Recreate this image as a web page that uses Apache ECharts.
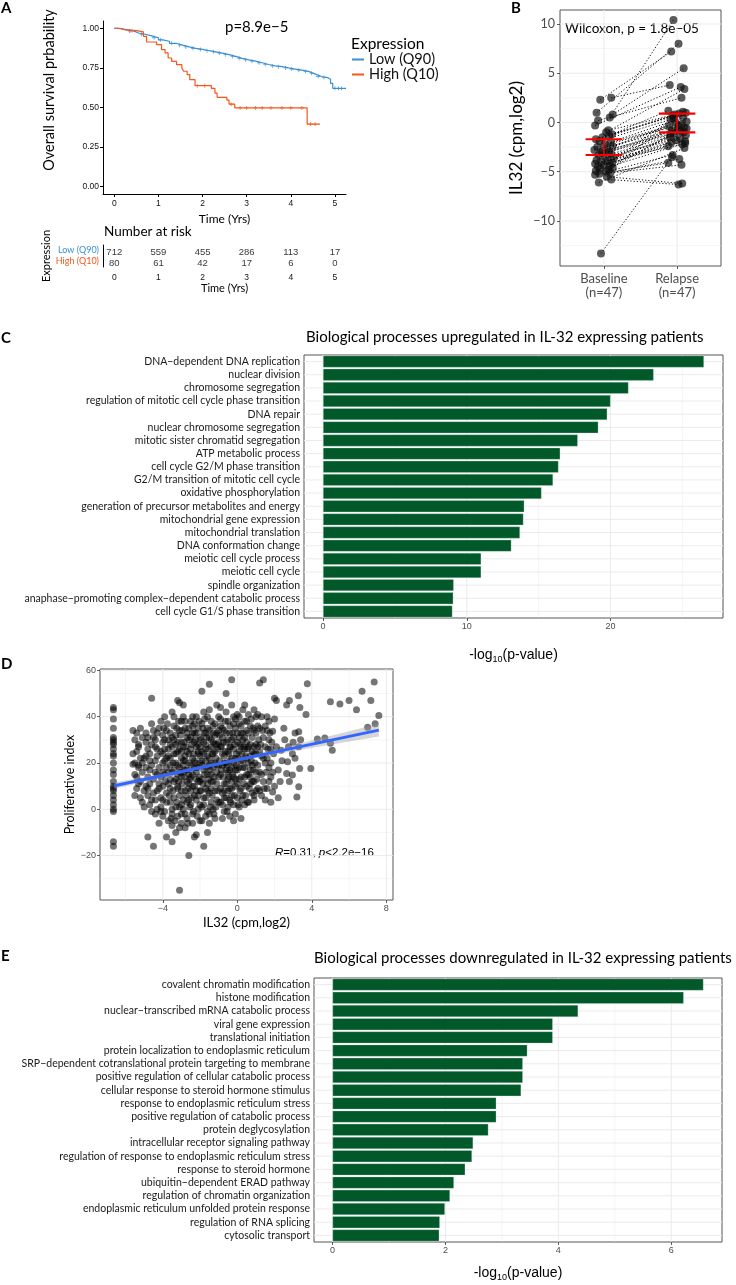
<!DOCTYPE html>
<html><head><meta charset="utf-8">
<script src="https://cdn.jsdelivr.net/npm/echarts@6/dist/echarts.min.js"></script>
<style>html,body{margin:0;padding:0;background:#fff}#c{width:736px;height:1285px}</style>
</head><body><div id="c"></div>
<script>
// ---------------- DATA ----------------
// Panel A: Kaplan-Meier step points [time (yrs), survival]
const lowCurve = [[0,1.0],[0.08,0.995],[0.2,0.99],[0.3,0.982],[0.45,0.97],[0.55,0.962],[0.7,0.952],[0.85,0.94],[1.0,0.927],[1.1,0.918],[1.25,0.905],[1.4,0.893],[1.55,0.882],[1.7,0.873],[1.85,0.866],[2.0,0.858],[2.15,0.851],[2.3,0.843],[2.45,0.833],[2.6,0.822],[2.75,0.81],[2.9,0.8],[3.05,0.792],[3.2,0.782],[3.35,0.771],[3.5,0.762],[3.65,0.757],[3.8,0.749],[3.95,0.742],[4.1,0.735],[4.25,0.727],[4.4,0.716],[4.5,0.705],[4.6,0.695],[4.7,0.688],[4.83,0.678],[4.9,0.652],[4.95,0.62],[5.25,0.62]];
const highCurve = [[0,1.0],[0.12,0.99],[0.25,0.985],[0.51,0.977],[0.66,0.949],[0.73,0.913],[0.96,0.897],[1.07,0.865],[1.15,0.844],[1.22,0.812],[1.30,0.791],[1.41,0.77],[1.53,0.749],[1.57,0.728],[1.65,0.707],[1.71,0.675],[1.83,0.637],[2.2,0.62],[2.28,0.59],[2.33,0.563],[2.55,0.546],[2.6,0.52],[2.73,0.496],[4.37,0.394],[4.66,0.394]];
const lowCensorTimes = [0.35,0.62,0.9,1.05,1.3,1.48,1.62,1.78,1.95,2.1,2.25,2.38,2.52,2.68,2.83,2.97,3.12,3.28,3.42,3.58,3.72,3.88,4.02,4.18,4.33,4.47,4.62,4.75,5.0,5.08,5.15];
const highCensorTimes = [0.35,0.4,1.88,2.05,2.65,2.85,3.0,3.2,3.35,3.55,3.8,4.0,4.25,4.45,4.55];
const riskTimes = [0,1,2,3,4,5];
const riskLow = [712,559,455,286,113,17];
const riskHigh = [80,61,42,17,6,0];
const survTicks = [0,0.25,0.5,0.75,1];
const timeTicks = [0,1,2,3,4,5];

// Panel B: paired IL32 values
const bCategories = ['Baseline\n(n=47)','Relapse\n(n=47)'];
const baseline = [0.5,1.0,2.3,0.8,2.5,-0.3,-1.0,0.2,-1.2,-1.5,-0.8,-1.7,-2.0,-1.9,-2.2,-2.4,-2.5,-2.7,-2.8,-3.0,-3.1,-3.2,-3.3,-3.5,-3.6,-3.8,-3.9,-4.0,-4.1,-4.2,-4.3,-4.4,-4.5,-4.6,-4.7,-4.8,-4.9,-5.0,-5.1,-5.2,-5.3,-5.5,-5.8,-6.1,-1.4,-2.9,-13.3];
const relapse = [10.4,8.0,7.2,5.5,3.8,3.6,3.4,2.5,1.2,1.0,0.9,0.7,0.5,0.3,0.1,0.0,-0.2,-0.4,-0.5,-0.7,-0.8,-1.0,-1.1,-1.3,-1.5,-1.6,-1.8,-1.9,-2.0,-2.2,-2.4,-0.6,-0.3,0.4,1.1,-1.2,-2.1,-3.3,-3.7,-4.1,-4.3,-6.2,-6.3,-2.6,0.8,-0.9,-3.5];
const baselineJitter = [0.08,-0.10,-0.05,0.12,0.10,-0.12,0.03,-0.08,0.11,-0.02,0.06,-0.11,0.09,-0.06,0.01,0.12,-0.09,0.04,-0.13,0.07,-0.03,0.10,-0.07,0.02,0.13,-0.10,0.05,-0.04,0.11,-0.12,0.00,0.08,-0.08,0.12,-0.05,0.06,-0.11,0.03,0.09,-0.06,-0.12,0.04,0.10,-0.07,0.07,-0.02,-0.04];
const relapseJitter = [-0.05,0.02,-0.08,0.09,-0.10,0.05,0.10,0.06,-0.12,0.12,0.03,-0.06,0.08,-0.09,0.13,-0.02,0.06,-0.11,0.10,0.01,-0.07,0.09,-0.04,0.12,-0.10,0.04,-0.01,0.11,-0.08,0.07,-0.12,0.13,0.02,-0.05,0.08,-0.09,0.11,-0.06,0.03,-0.12,0.06,0.07,0.02,0.10,-0.03,0.05,-0.07];
const errLow = [-3.3,-1.0];
const errHigh = [-1.7,0.9];
const bTicks = [-10,-5,0,5,10];
const bMinor = [-12.5,-7.5,-2.5,2.5,7.5];

// Panel C: upregulated processes
const upTerms = ['DNA−dependent DNA replication','nuclear division','chromosome segregation','regulation of mitotic cell cycle phase transition','DNA repair','nuclear chromosome segregation','mitotic sister chromatid segregation','ATP metabolic process','cell cycle G2/M phase transition','G2/M transition of mitotic cell cycle','oxidative phosphorylation','generation of precursor metabolites and energy','mitochondrial gene expression','mitochondrial translation','DNA conformation change','meiotic cell cycle process','meiotic cell cycle','spindle organization','anaphase−promoting complex−dependent catabolic process','cell cycle G1/S phase transition'];
const upValues = [26.5,23.0,21.25,20.0,19.77,19.15,17.72,16.5,16.38,16.0,15.2,14.0,13.94,13.7,13.1,11.0,11.0,9.09,9.06,9.0];
const upTicks = [0,10,20];
const upMinor = [5,15,25];

// Panel D: IL32 vs proliferative index
const proliferation = [
[-6.65,44],[-6.65,43],[-6.65,39],[-6.65,35],[-6.65,31],[-6.65,30],[-6.65,29],[-6.65,28],[-6.65,26],[-6.65,24],[-6.65,23],[-6.65,20],[-6.65,17],[-6.65,15],[-6.65,12],[-6.65,10],[-6.65,9],[-6.65,8],[-6.65,6],[-6.65,4],[-6.65,2],[-6.65,0],[-6.65,-1],[-6.65,-14],[-6.65,-16],
[-5.6,34],[-5.5,30],[-5.4,25],[-5.6,24],[-5.5,20],[-5.3,19],[-5.5,15],[-5.4,9],[-5.5,6],[-5.2,5],[-5.1,31],[-5.0,22],[-5.2,12],[-5.3,27],[-5.1,16],[-5.0,8],[-5.0,1],[-5.3,18],[-5.6,19.5],[-5.2,35],
[-4.9,33],[-4.8,26],[-4.7,21],[-4.8,14],[-4.9,10],[-4.6,48],[-4.7,2],[-4.5,-16],[-4.4,-2],[-4.6,-1],[-4.5,31],[-4.4,27],[-4.3,23],[-4.2,18],[-4.5,13],[-4.3,8],[-4.1,5],[-4.8,-12],[-4.2,35],[-4.0,29],[-4.1,25],[-4.0,20],[-4.4,16],[-4.2,11],[-4.0,4],[-4.6,37],[-4.3,33],[-4.1,38],[-4.7,17],[-4.9,23],[-4.5,7],[-4.0,-3],[-4.3,0],[-4.6,28],[-4.2,-6],[-4.1,14],[-4.8,6],
[-3.9,40],[-3.8,34],[-3.7,30],[-3.9,26],[-3.8,22],[-3.6,19],[-3.9,15],[-3.7,11],[-3.8,7],[-3.6,3],[-3.9,-1],[-3.7,-5],[-3.8,-12],[-3.5,-7],[-3.5,42],[-3.4,36],[-3.3,32],[-3.5,27],[-3.4,24],[-3.3,20],[-3.5,16],[-3.4,12],[-3.2,9],[-3.4,5],[-3.3,1],[-3.5,-2],[-3.2,47],[-3.1,46],[-3.3,-10],[-3.5,-14],[-3.1,-35],[-3.0,38],[-3.1,34],[-3.0,29],[-3.2,25],[-3.0,22],[-3.1,18],[-3.0,14],[-3.2,10],[-3.1,6],[-3.0,2],[-3.2,-3],[-3.0,-6],[-3.6,33],[-3.7,26],[-3.8,18],[-3.6,9],[-3.3,28],[-3.4,30],[-3.2,15],[-3.6,22],[-3.9,30],[-3.5,0],[-3.1,-8],[-2.9,45],
[-2.9,40],[-2.8,35],[-2.7,31],[-2.9,27],[-2.8,23],[-2.6,20],[-2.9,16],[-2.7,12],[-2.8,8],[-2.6,4],[-2.9,0],[-2.7,-4],[-2.6,-20],[-2.8,-8],[-2.5,38],[-2.4,33],[-2.3,29],[-2.5,26],[-2.4,22],[-2.3,18],[-2.5,14],[-2.4,10],[-2.3,6],[-2.5,2],[-2.4,-2],[-2.3,-12],[-2.2,-11],[-2.2,40],[-2.1,35],[-2.0,31],[-2.2,27],[-2.1,24],[-2.0,20],[-2.2,16],[-2.1,12],[-2.0,8],[-2.2,4],[-2.1,0],[-2.0,-5],[-2.6,30],[-2.7,25],[-2.6,15],[-2.5,8],[-2.3,21],[-2.1,28],[-2.4,36],[-2.8,17],[-2.2,13],[-2.7,3],[-2.4,-6],[-2.0,23],[-2.9,21],[-2.6,11],[-2.3,33],
[-1.9,51],[-1.8,42],[-1.9,37],[-1.7,33],[-1.8,29],[-1.9,25],[-1.7,21],[-1.8,17],[-1.9,13],[-1.7,9],[-1.8,5],[-1.9,1],[-1.7,-3],[-1.8,-16],[-1.6,-10],[-1.5,54],[-1.5,43],[-1.4,38],[-1.6,35],[-1.5,31],[-1.4,27],[-1.6,23],[-1.5,19],[-1.4,15],[-1.6,11],[-1.5,7],[-1.4,3],[-1.6,-1],[-1.5,-6],[-1.3,36],[-1.2,32],[-1.1,28],[-1.3,24],[-1.2,20],[-1.1,16],[-1.3,12],[-1.2,8],[-1.1,4],[-1.3,0],[-1.2,-4],[-1.0,40],[-1.1,45],[-1.7,26],[-1.6,15],[-1.4,9],[-1.2,25],[-1.0,19],[-1.8,33],[-1.3,29],[-1.1,11],[-1.5,-2],[-1.9,19],[-1.0,34],[-1.4,20],
[-0.9,36],[-0.8,31],[-0.9,27],[-0.7,23],[-0.8,19],[-0.9,15],[-0.7,11],[-0.8,7],[-0.9,3],[-0.7,-1],[-0.8,-4],[-0.6,50],[-0.6,42],[-0.5,38],[-0.4,33],[-0.6,29],[-0.5,25],[-0.4,21],[-0.6,17],[-0.5,13],[-0.4,9],[-0.6,5],[-0.5,1],[-0.4,-3],[-0.3,56],[-0.3,45],[-0.2,40],[-0.1,35],[-0.3,30],[-0.2,26],[-0.1,22],[-0.3,18],[-0.2,14],[-0.1,10],[-0.3,6],[-0.2,2],[-0.1,-2],[-0.9,44],[-0.7,34],[-0.4,27],[-0.2,31],[-0.8,24],[-0.5,16],[-0.3,12],[-0.7,8],[-0.1,17],[-0.6,20],[-0.4,4],[-0.2,37],
[0.0,41],[0.1,37],[0.2,33],[0.0,29],[0.1,25],[0.2,21],[0.0,17],[0.1,13],[0.2,9],[0.0,5],[0.1,1],[0.2,-4],[0.3,43],[0.4,38],[0.5,34],[0.3,30],[0.4,26],[0.5,22],[0.3,18],[0.4,14],[0.5,10],[0.3,6],[0.4,2],[0.6,41],[0.7,36],[0.8,31],[0.6,27],[0.7,23],[0.8,19],[0.6,15],[0.7,11],[0.8,7],[0.6,3],[0.9,43],[1.0,40],[0.9,34],[1.0,28],[0.9,24],[1.0,16],[0.9,12],[1.0,8],[0.9,4],[0.2,27],[0.5,29],[0.7,17],[0.4,45],[0.8,25],[0.1,31],
[1.2,54.5],[1.4,56],[1.1,41],[1.3,40],[1.2,35],[1.4,31],[1.1,27],[1.3,23],[1.5,20],[1.2,16],[1.4,12],[1.1,9],[1.3,6],[1.5,4],[1.6,34],[1.7,30],[1.8,26],[1.6,22],[1.7,18],[1.8,14],[1.9,7.5],[1.6,9],[2.0,39],[1.9,33.7],[2.0,48],[2.1,47],[1.5,36],[1.8,3],[1.2,25],[1.7,38],
[2.2,5],[2.3,12],[2.1,27],[2.35,25.5],[2.5,35],[2.55,30],[2.65,15.5],[2.7,20.5],[2.75,27],[2.8,12],[2.8,47],[2.65,45],[2.96,14.8],[2.96,24],[3.0,29],[3.1,33],[3.1,22],[3.2,5.3],[3.28,49],[3.3,33.5],[3.3,27],[3.3,9.7],[3.35,17.6],[3.36,44],[3.4,30],[3.69,41],[3.76,54.2],[3.95,17.6],[4.3,30.4],[4.7,30.8],[5.0,28.5],[5.1,25.5],[5.0,46.5],[5.51,45.5],[6.0,47],[6.4,43],[6.7,51],[7.0,35.4],[7.17,47],[7.35,55],[7.4,37],[7.6,40.5],[2.4,21],[2.2,17],
[-5.4,33],[-5.3,28],[-5.2,22],[-5.1,20],[-5.4,14],[-5.3,11],[-5.1,3],[-4.9,29],[-4.8,31],[-4.7,24],[-4.6,19],[-4.7,11],[-4.6,4],[-4.9,18],[-4.8,9],[-4.5,34],[-4.4,30],[-4.3,26],[-4.4,21],[-4.3,15],[-4.2,9],[-4.4,4],[-4.1,1],[-4.0,32],[-4.0,24],[-4.0,16],[-4.0,10],[-4.1,-1],
[-3.95,35],[-3.9,21],[-3.85,12],[-3.8,3],[-3.75,37],[-3.7,23],[-3.7,16],[-3.65,6],[-3.6,28],[-3.6,13],[-3.55,-4],[-3.5,31],[-3.45,20],[-3.45,8],[-3.4,40],[-3.4,17],[-3.35,-5],[-3.3,24],[-3.3,13],[-3.25,35],[-3.25,3],[-3.2,29],[-3.2,19],[-3.15,38],[-3.15,12],[-3.1,26],[-3.1,1],[-3.05,32],[-3.05,16],[-3.0,25],[-3.0,8],[-3.0,-2],
[-2.95,34],[-2.95,11],[-2.9,19],[-2.9,4],[-2.85,29],[-2.85,14],[-2.8,38],[-2.8,21],[-2.8,-2],[-2.75,27],[-2.75,6],[-2.7,17],[-2.7,33],[-2.65,9],[-2.65,-6],[-2.6,24],[-2.6,35],[-2.55,13],[-2.55,1],[-2.5,19],[-2.5,31],[-2.45,5],[-2.45,28],[-2.4,15],[-2.4,40],[-2.35,24],[-2.35,-1],[-2.3,10],[-2.3,37],[-2.25,20],[-2.25,30],[-2.2,8],[-2.2,33],[-2.15,18],[-2.15,-3],[-2.1,25],[-2.1,6],[-2.05,14],[-2.05,38],[-2.0,27],[-2.0,2],[-2.0,12],
[-1.95,30],[-1.95,8],[-1.9,21],[-1.9,-5],[-1.85,35],[-1.85,11],[-1.8,24],[-1.8,2],[-1.75,15],[-1.75,39],[-1.7,28],[-1.7,5],[-1.65,18],[-1.65,31],[-1.6,8],[-1.6,40],[-1.55,26],[-1.55,13],[-1.5,34],[-1.5,22],[-1.45,1],[-1.45,17],[-1.4,30],[-1.4,12],[-1.35,24],[-1.35,6],[-1.3,33],[-1.3,18],[-1.25,-2],[-1.25,14],[-1.2,37],[-1.2,28],[-1.15,22],[-1.15,1],[-1.1,33],[-1.1,19],[-1.05,8],[-1.05,26],[-1.0,14],[-1.0,29],[-1.0,3],
[-0.95,21],[-0.95,32],[-0.9,9],[-0.9,39],[-0.85,17],[-0.85,27],[-0.8,2],[-0.8,35],[-0.75,14],[-0.75,29],[-0.7,20],[-0.7,5],[-0.65,38],[-0.65,25],[-0.6,11],[-0.6,33],[-0.55,19],[-0.55,-1],[-0.5,30],[-0.5,8],[-0.45,24],[-0.45,14],[-0.4,36],[-0.4,17],[-0.35,3],[-0.35,27],[-0.3,22],[-0.3,9],[-0.25,33],[-0.25,15],[-0.2,20],[-0.2,-5],[-0.15,28],[-0.15,6],[-0.1,13],[-0.1,39],[-0.05,24],[-0.05,19],
[0.0,33],[0.0,11],[0.05,22],[0.05,2],[0.1,18],[0.1,40],[0.15,28],[0.15,8],[0.2,14],[0.2,36],[0.25,24],[0.25,4],[0.3,21],[0.3,33],[0.35,11],[0.35,27],[0.4,18],[0.4,31],[0.45,6],[0.45,23],[0.5,15],[0.5,38],[0.55,26],[0.55,3],[0.6,20],[0.6,33],[0.65,9],[0.7,28],[0.7,14],[0.75,39],[0.75,21],[0.8,12],[0.85,35],[0.85,17],[0.9,27],[0.9,6],[0.95,20],[1.0,33],[1.0,24],[1.05,13],[1.1,36],[1.1,19],[1.15,30],[1.2,8],[1.25,28],[1.3,15],[1.35,34],[1.4,22],[1.45,9],[1.5,27],[1.55,16],[1.6,40],[1.65,26],[1.7,12],[1.75,33],[1.8,20],[1.85,29],[1.9,16],[1.95,24],[2.0,10]
];
const fitLine = [[-6.6,10.2],[7.6,34.2]];
const fitX = [-6.6,-4,-2,0,2,4,6,7.6];
const fitLow = [8.8,13.7,17.4,20.6,23.7,26.5,29.3,31.4];
const fitHigh = [11.6,15.5,18.6,22.1,25.7,29.7,33.7,37.0];
const dXTicks = [-4,0,4,8], dXMinor = [-6,-2,2,6];
const dYTicks = [-20,0,20,40,60], dYMinor = [-30,-10,10,30,50];

// Panel E: downregulated processes
const downTerms = ['covalent chromatin modification','histone modification','nuclear−transcribed mRNA catabolic process','viral gene expression','translational initiation','protein localization to endoplasmic reticulum','SRP−dependent cotranslational protein targeting to membrane','positive regulation of cellular catabolic process','cellular response to steroid hormone stimulus','response to endoplasmic reticulum stress','positive regulation of catabolic process','protein deglycosylation','intracellular receptor signaling pathway','regulation of response to endoplasmic reticulum stress','response to steroid hormone','ubiquitin−dependent ERAD pathway','regulation of chromatin organization','endoplasmic reticulum unfolded protein response','regulation of RNA splicing','cytosolic transport'];
const downValues = [6.57,6.22,4.35,3.90,3.90,3.45,3.37,3.37,3.34,2.90,2.90,2.76,2.49,2.47,2.35,2.15,2.08,1.99,1.90,1.89];
const downTicks = [0,2,4,6];
const downMinor = [1,3,5];

// ---------------- STYLE ----------------
const F = "Lato, 'Noto Sans', sans-serif";
const TF = "'Liberation Sans', Arial, sans-serif";
const BLUE = '#3a8fd4', ORANGE = '#f5561a', GREEN = '#01592a';
const minus = v => (v < 0 ? '−' + Math.abs(v) : String(v));

function survAt(curve, t) {
  let s = curve[0][1];
  for (const p of curve) { if (p[0] <= t) s = p[1]; }
  return s;
}
function gridSeries(idx, pts, dir, w) {
  return {
    type: 'custom', xAxisIndex: idx, yAxisIndex: idx, silent: true, z: 0, animation: false,
    data: pts,
    renderItem: function (params, api) {
      const cs = params.coordSys;
      const p = api.coord([api.value(0), api.value(1)]);
      const shape = dir === 'h'
        ? { x1: cs.x, y1: p[1], x2: cs.x + cs.width, y2: p[1] }
        : { x1: p[0], y1: cs.y, x2: p[0], y2: cs.y + cs.height };
      return { type: 'line', shape: shape, style: { stroke: '#ebebeb', lineWidth: w } };
    }
  };
}
function bwValueAxis(idx, min, max, ticks, extra) {
  return Object.assign({
    type: 'value', gridIndex: idx, min: min, max: max,
    axisLine: { show: false, onZero: false }, splitLine: { show: false },
    axisTick: { show: true, customValues: ticks, length: 3, lineStyle: { color: '#333', width: 0.8 } },
    axisLabel: { customValues: ticks, formatter: minus, fontFamily: TF, fontSize: 9, color: '#4d4d4d', margin: 4 }
  }, extra || {});
}
const plusSym = 'path://M4,0h2v4h4v2h-4v4h-2v-4h-4v-2h4z';
const subName = { fontSize: 14, fontFamily: TF, color: '#000', rich: { s: { fontSize: 9, fontFamily: TF, padding: [9, 0, 0, 0] } } };

const option = {
  animation: false,
  backgroundColor: '#fff',
  legend: {
    data: ['Low (Q90)', 'High (Q10)'], orient: 'vertical', left: 352, top: 52, padding: 0, itemWidth: 12, itemHeight: 2,
    icon: 'rect', itemGap: 0, textStyle: { fontFamily: F, fontSize: 14.5, color: '#111' }
  },
  grid: [
    { left: 103, top: 21, width: 243, height: 173 },
    { left: 103, top: 245, width: 243, height: 22 },
    { left: 560, top: 10, width: 161, height: 256, show: true, borderColor: '#555', borderWidth: 1, backgroundColor: 'transparent' },
    { left: 304, top: 355, width: 419, height: 263, show: true, borderColor: '#555', borderWidth: 1, backgroundColor: 'transparent' },
    { left: 100, top: 669, width: 293, height: 231, show: true, borderColor: '#555', borderWidth: 1, backgroundColor: 'transparent' },
    { left: 314, top: 978, width: 408, height: 264, show: true, borderColor: '#555', borderWidth: 1, backgroundColor: 'transparent' }
  ],
  xAxis: [
    { type: 'value', gridIndex: 0, min: -0.256, max: 5.25, splitLine: { show: false },
      axisLine: { onZero: false, lineStyle: { color: '#000', width: 1 } },
      axisTick: { customValues: timeTicks, length: 3, lineStyle: { color: '#000' } },
      axisLabel: { customValues: timeTicks, fontFamily: TF, fontSize: 8.5, color: '#111', margin: 5 },
      name: 'Time (Yrs)', nameLocation: 'middle', nameGap: 19, nameTextStyle: { fontFamily: F, fontSize: 12, color: '#000' } },
    { type: 'value', gridIndex: 1, min: -0.256, max: 5.25, splitLine: { show: false },
      axisLine: { show: false, onZero: false },
      axisTick: { customValues: timeTicks, length: 2, lineStyle: { color: '#000' } },
      axisLabel: { customValues: timeTicks, fontFamily: TF, fontSize: 8.5, color: '#111', margin: 6 },
      name: 'Time (Yrs)', nameLocation: 'middle', nameGap: 16, nameTextStyle: { fontFamily: F, fontSize: 11, color: '#000' } },
    bwValueAxis(2, 0.4, 2.6, [1, 2], {
      axisLabel: { customValues: [1, 2], formatter: v => bCategories[v - 1], fontFamily: F, fontSize: 13, color: '#4d4d4d', lineHeight: 14, margin: 6 } }),
    bwValueAxis(3, -1.325, 27.825, upTicks, {
      name: '-log{s|10}(p-value)', nameLocation: 'middle', nameGap: 28, nameTextStyle: subName }),
    bwValueAxis(4, -7.37, 8.36, dXTicks, {
      name: 'IL32 (cpm,log2)', nameLocation: 'middle', nameGap: 16, nameTextStyle: { fontFamily: F, fontSize: 13, color: '#000' } }),
    bwValueAxis(5, -0.3285, 6.8985, downTicks, {
      name: '-log{s|10}(p-value)', nameLocation: 'middle', nameGap: 22, nameTextStyle: subName })
  ],
  yAxis: [
    { type: 'value', gridIndex: 0, min: -0.0485, max: 1.046, splitLine: { show: false },
      axisLine: { onZero: false, lineStyle: { color: '#000', width: 1 } },
      axisTick: { customValues: survTicks, length: 3, lineStyle: { color: '#000' } },
      axisLabel: { customValues: survTicks, formatter: v => v.toFixed(2), fontFamily: TF, fontSize: 8.5, color: '#111', margin: 4 } },
    { type: 'category', gridIndex: 1, data: ['High (Q10)', 'Low (Q90)'],
      axisLine: { onZero: false, lineStyle: { color: '#000', width: 1 } },
      axisTick: { alignWithLabel: true, length: 3, lineStyle: { color: '#000' } },
      axisLabel: { margin: 4, interval: 0, formatter: v => (v === 'Low (Q90)' ? '{l|' + v + '}' : '{h|' + v + '}'),
        rich: { l: { color: BLUE, fontFamily: F, fontSize: 9 }, h: { color: ORANGE, fontFamily: F, fontSize: 9 } } },
      name: 'Expression', nameLocation: 'middle', nameGap: 47, nameTextStyle: { fontFamily: F, fontSize: 11, color: '#000' } },
    bwValueAxis(2, -14.57, 11.42, bTicks, {
      axisLabel: { customValues: bTicks, formatter: minus, fontFamily: F, fontSize: 12.5, color: '#4d4d4d', margin: 5 },
      name: 'IL32 (cpm,log2)', nameLocation: 'middle', nameGap: 35, nameTextStyle: { fontFamily: F, fontSize: 17, color: '#000' } }),
    { type: 'category', gridIndex: 3, data: upTerms, inverse: true,
      axisLine: { show: false }, splitLine: { show: false },
      axisTick: { alignWithLabel: true, length: 3, lineStyle: { color: '#333', width: 0.8 } },
      axisLabel: { fontFamily: F, fontSize: 10.5, color: '#1a1a1a', margin: 4, interval: 0 } },
    bwValueAxis(4, -39.18, 60.6, dYTicks, {
      name: 'Proliferative index', nameLocation: 'middle', nameGap: 24, nameTextStyle: { fontFamily: F, fontSize: 12.5, color: '#000' } }),
    { type: 'category', gridIndex: 5, data: downTerms, inverse: true,
      axisLine: { show: false }, splitLine: { show: false },
      axisTick: { alignWithLabel: true, length: 3, lineStyle: { color: '#333', width: 0.8 } },
      axisLabel: { fontFamily: F, fontSize: 10.5, color: '#1a1a1a', margin: 4, interval: 0 } }
  ],
  graphic: [
    { type: 'text', left: 1, top: 1, style: { text: 'A', font: 'bold 15px Lato', fill: '#000' } },
    { type: 'text', left: 511, top: 1, style: { text: 'B', font: 'bold 15px Lato', fill: '#000' } },
    { type: 'text', left: 1, top: 331, style: { text: 'C', font: 'bold 15px Lato', fill: '#000' } },
    { type: 'text', left: 1, top: 657, style: { text: 'D', font: 'bold 15px Lato', fill: '#000' } },
    { type: 'text', left: 1, top: 949, style: { text: 'E', font: 'bold 15px Lato', fill: '#000' } },
    { type: 'text', x: 49, y: 90, rotation: Math.PI / 2,
      style: { text: 'Overall survival prbability', font: '14.5px Lato', fill: '#000', align: 'center', verticalAlign: 'middle' } },
    { type: 'text', left: 225, top: 20, style: { text: 'p=8.9e−5', font: '15px Lato', fill: '#000' } },
    { type: 'text', left: 351, top: 36, style: { text: 'Expression', font: '15.5px Lato', fill: '#000' } },
    { type: 'text', left: 104, top: 225, style: { text: 'Number at risk', font: '13.5px Lato', fill: '#000' } },
    { type: 'text', left: 565, top: 22, style: { text: 'Wilcoxon, p = 1.8e−05', font: '13.5px Lato', fill: '#000' } },
    { type: 'text', left: 306, top: 330, style: { text: 'Biological processes upregulated in IL-32 expressing patients', font: '15px Lato', fill: '#000' } },
    { type: 'text', left: 275, top: 847, style: { text: '{i|R}=0.31, {i|p}<2.2e−16', font: '11.5px "Liberation Sans"', fill: '#000',
        rich: { i: { fontStyle: 'italic', fontSize: 11.5, fontFamily: 'Liberation Sans' } } } },
    { type: 'text', left: 314, top: 951, style: { text: 'Biological processes downregulated in IL-32 expressing patients', font: '15px Lato', fill: '#000' } }
  ],
  series: [
    // ---- Panel A ----
    { type: 'line', name: 'Low (Q90)', xAxisIndex: 0, yAxisIndex: 0, data: lowCurve, step: 'end', showSymbol: false,
      lineStyle: { color: BLUE, width: 1.2 }, itemStyle: { color: BLUE } },
    { type: 'line', name: 'High (Q10)', xAxisIndex: 0, yAxisIndex: 0, data: highCurve, step: 'end', showSymbol: false,
      lineStyle: { color: ORANGE, width: 1.2 }, itemStyle: { color: ORANGE } },
    { type: 'scatter', xAxisIndex: 0, yAxisIndex: 0, symbol: plusSym, symbolSize: 4, itemStyle: { color: BLUE },
      data: lowCensorTimes.map(t => [t, survAt(lowCurve, t)]) },
    { type: 'scatter', xAxisIndex: 0, yAxisIndex: 0, symbol: plusSym, symbolSize: 4, itemStyle: { color: ORANGE },
      data: highCensorTimes.map(t => [t, survAt(highCurve, t)]) },
    { type: 'scatter', xAxisIndex: 1, yAxisIndex: 1, symbolSize: 0,
      data: riskTimes.map((t, i) => [t, 'Low (Q90)', riskLow[i]]).concat(riskTimes.map((t, i) => [t, 'High (Q10)', riskHigh[i]])),
      label: { show: true, position: 'inside', offset: [0, 2], formatter: p => String(p.value[2]), fontFamily: TF, fontSize: 9.5, color: '#000' } },
    // ---- Panel B ----
    gridSeries(2, bTicks.map(v => [1, v]), 'h', 1),
    gridSeries(2, bMinor.map(v => [1, v]), 'h', 0.5),
    gridSeries(2, [[1, 0], [2, 0]], 'v', 1),
    { type: 'lines', coordinateSystem: 'cartesian2d', xAxisIndex: 2, yAxisIndex: 2, z: 2, silent: true,
      lineStyle: { color: '#000', width: 1, type: [1.2, 2], opacity: 0.95 },
      data: baseline.map((b, i) => ({ coords: [[1 + baselineJitter[i], b], [2 + relapseJitter[i], relapse[i]]] })) },
    { type: 'scatter', xAxisIndex: 2, yAxisIndex: 2, z: 3, symbolSize: 8, itemStyle: { color: 'rgba(15,15,15,0.85)' },
      data: baseline.map((b, i) => [1 + baselineJitter[i], b]).concat(relapse.map((r, i) => [2 + relapseJitter[i], r])) },
    { type: 'custom', xAxisIndex: 2, yAxisIndex: 2, z: 4, silent: true,
      data: errLow.map((lo, i) => [i + 1, lo, errHigh[i]]),
      renderItem: function (params, api) {
        const x = api.value(0), lo = api.value(1), hi = api.value(2);
        const a = api.coord([x - 0.25, hi]), b = api.coord([x + 0.25, hi]);
        const c = api.coord([x - 0.25, lo]), d = api.coord([x + 0.25, lo]);
        const m1 = api.coord([x, hi]), m2 = api.coord([x, lo]);
        const st = { stroke: '#ff0000', lineWidth: 2.2 };
        return { type: 'group', children: [
          { type: 'line', shape: { x1: a[0], y1: a[1], x2: b[0], y2: b[1] }, style: st },
          { type: 'line', shape: { x1: c[0], y1: c[1], x2: d[0], y2: d[1] }, style: st },
          { type: 'line', shape: { x1: m1[0], y1: m1[1], x2: m2[0], y2: m2[1] }, style: { stroke: '#ff0000', lineWidth: 1.5 } }
        ] };
      } },
    // ---- Panel C ----
    gridSeries(3, upTicks.map(v => [v, upTerms[0]]), 'v', 1),
    gridSeries(3, upMinor.map(v => [v, upTerms[0]]), 'v', 0.5),
    gridSeries(3, upTerms.map(t => [0, t]), 'h', 1),
    { type: 'bar', xAxisIndex: 3, yAxisIndex: 3, z: 2, data: upValues, barCategoryGap: '10%',
      itemStyle: { color: GREEN, borderColor: 'rgba(200,225,210,0.6)', borderWidth: 0.5 } },
    // ---- Panel D ----
    gridSeries(4, dXTicks.map(v => [v, 0]), 'v', 1),
    gridSeries(4, dXMinor.map(v => [v, 0]), 'v', 0.5),
    gridSeries(4, dYTicks.map(v => [0, v]), 'h', 1),
    gridSeries(4, dYMinor.map(v => [0, v]), 'h', 0.5),
    { type: 'scatter', xAxisIndex: 4, yAxisIndex: 4, z: 2, symbolSize: 7, data: proliferation, large: false,
      itemStyle: { color: 'rgba(0,0,0,0.68)' } },
    { type: 'custom', xAxisIndex: 4, yAxisIndex: 4, z: 3, silent: true, data: [[0, 0]],
      renderItem: function (params, api) {
        const pts = [];
        fitX.forEach((x, i) => pts.push(api.coord([x, fitHigh[i]])));
        for (let i = fitX.length - 1; i >= 0; i--) pts.push(api.coord([fitX[i], fitLow[i]]));
        return { type: 'polygon', shape: { points: pts }, style: { fill: 'rgba(153,153,153,0.4)' } };
      } },
    { type: 'line', xAxisIndex: 4, yAxisIndex: 4, z: 4, data: fitLine, showSymbol: false, silent: true,
      lineStyle: { color: '#3366ff', width: 3 } },
    // ---- Panel E ----
    gridSeries(5, downTicks.map(v => [v, downTerms[0]]), 'v', 1),
    gridSeries(5, downMinor.map(v => [v, downTerms[0]]), 'v', 0.5),
    gridSeries(5, downTerms.map(t => [0, t]), 'h', 1),
    { type: 'bar', xAxisIndex: 5, yAxisIndex: 5, z: 2, data: downValues, barCategoryGap: '10%',
      itemStyle: { color: GREEN, borderColor: 'rgba(200,225,210,0.6)', borderWidth: 0.5 } }
  ]
};
const chart = echarts.init(document.getElementById('c'), null, { renderer: 'canvas', width: 736, height: 1285 });
chart.setOption(option);
</script></body></html>
